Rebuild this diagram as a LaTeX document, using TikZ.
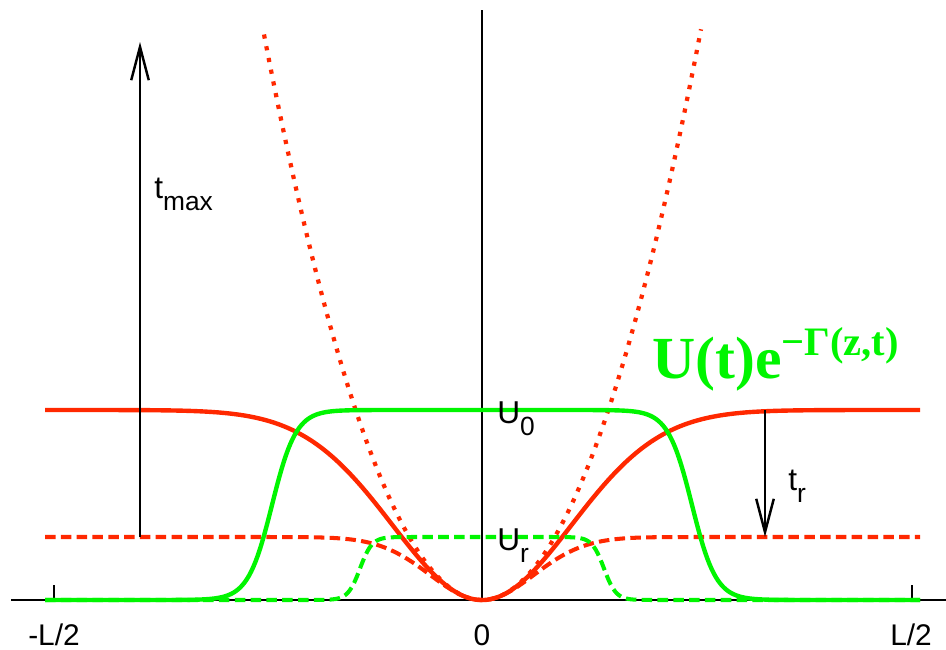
\documentclass[tikz,border=0pt]{standalone}
\usepackage{fontspec}
\setmainfont{Liberation Sans}
\newfontfamily\timesfont{Liberation Serif}
\usepackage{tikz}
\usepackage{xcolor}
\usetikzlibrary{arrows.meta}

\definecolor{wellred}{RGB}{255,40,0}
\definecolor{wellgreen}{RGB}{0,245,0}
\newcommand{\lowsub}[1]{\raisebox{-0.4em}{\fontsize{15}{15}\selectfont #1}}

\begin{document}
\begin{tikzpicture}[x=0.02cm, y=-0.02cm,
    >={Straight Barb[length=19pt, width=10pt]},
    axisline/.style={line width=1.4pt},
    lbl/.style={anchor=base west, inner sep=0pt, font=\fontsize{18}{18}\selectfont},
    ticklbl/.style={anchor=base, inner sep=0pt, font=\fontsize{17}{17}\selectfont},
    fullred/.style={draw=wellred, line width=2.5pt},
    dashred/.style={draw=wellred, line width=2.3pt, dash pattern=on 6pt off 3pt},
    dotred/.style={draw=wellred, line width=2.4pt, dash pattern=on 2.4pt off 4.4pt},
    fullgreen/.style={draw=wellgreen, line width=2.5pt},
    dashgreen/.style={draw=wellgreen, line width=2.3pt, dash pattern=on 6pt off 3pt}]
        \useasboundingbox (0,0) rectangle (946,649);

        % axes
        \coordinate (xleft)  at ( 11, 600);
        \coordinate (xright) at (946, 600);
        \coordinate (origin) at (482, 600);
        \coordinate (ytop)   at (482,  10);
        \coordinate (lefttick)  at ( 54, 585);
        \coordinate (righttick) at (912, 585);
        \draw[axisline] (xleft) -- (xright);
        \draw[axisline] (origin) -- (ytop);
        \draw[axisline] (lefttick) -- (lefttick |- origin);
        \draw[axisline] (righttick) -- (righttick |- origin);

        \node (lhalf) at ( 54, 645) [ticklbl] {-L/2};
        \node (zero)  at (482, 645) [ticklbl] {0};
        \node (rhalf) at (911, 645) [ticklbl] {L/2};

        % potentials
        \draw[dotred]  plot[domain=264:701, samples=120] (\x, {600-119*((\x-482)/100)*((\x-482)/100)});
        \draw[fullred] plot[domain=45:920, samples=300] (\x, {600-190*(1-exp(-119*((\x-482)/100)*((\x-482)/100)/190))});
        \draw[dashred] plot[domain=45:920, samples=300] (\x, {600-63*(1-exp(-119*((\x-482)/100)*((\x-482)/100)/63))});
        \draw[dashgreen] plot[domain=45:920, samples=400] (\x, {600-63/(1+exp(min((abs(\x-482)-122)/6,9)))});
        \draw[fullgreen] plot[domain=45:920, samples=400] (\x, {600-190/(1+exp(min((abs(\x-482)-210)/12,9)))});

        % times
        \coordinate (tmaxfoot) at (140, 537);
        \coordinate (tmaxhead) at (140,  42);
        \coordinate (trtop)    at (765, 410);
        \coordinate (trbot)    at (765, 537);
        \draw[->, line width=1.4pt] (tmaxfoot) -- (tmaxhead);
        \draw[->, line width=1.4pt] (trtop) -- (trbot);

        \node (tmax) at (154, 198) [lbl] {t\lowsub{max}};
        \node (tr)   at (788, 490) [lbl] {t\lowsub{r}};
        \node (uzero) at (497, 423) [lbl] {U\lowsub{0}};
        \node (ur)    at (497, 550) [lbl] {U\lowsub{r}};

        \node (decay) at (652, 378) [anchor=base west, inner sep=0pt, text=wellgreen]
            {\timesfont\bfseries\fontsize{34}{34}\selectfont U(t)e\raisebox{13pt}{\fontsize{23}{23}\selectfont −Γ(z,t)}};
    \end{tikzpicture}
\end{document}
